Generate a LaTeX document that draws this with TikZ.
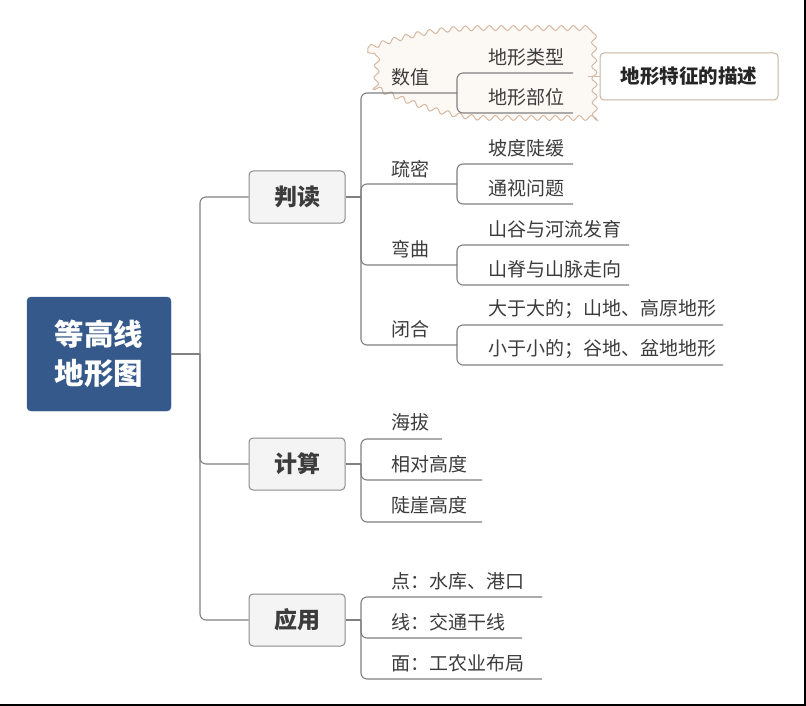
\documentclass[tikz,border=0pt]{standalone}
\usepackage{fontspec}
\setmainfont{Noto Sans CJK SC}
\usetikzlibrary{decorations.pathmorphing}
\definecolor{rootblue}{HTML}{34598A}
\definecolor{topicfill}{HTML}{F4F4F4}
\definecolor{topicdraw}{HTML}{8A8A8A}
\definecolor{linec}{HTML}{808080}
\definecolor{txt}{HTML}{3C3C3C}
\definecolor{bndfill}{HTML}{FCF9F5}
\definecolor{bnddraw}{HTML}{D6B8A2}
\definecolor{calldraw}{HTML}{C9B49E}
\tikzset{
  rootbox/.style={draw=rootblue, fill=rootblue, rounded corners=4pt, minimum width=144pt, minimum height=114pt,
    text=white, font=\fontsize{29.5}{39}\selectfont\bfseries, align=center, inner sep=0pt},
  topicbox/.style={draw=topicdraw, fill=topicfill, rounded corners=4pt, minimum width=96pt, minimum height=52pt,
    text=txt, font=\fontsize{23}{26}\selectfont\bfseries, inner sep=0pt, line width=1pt},
  subtxt/.style={anchor=west, text=txt, font=\fontsize{19}{22}\selectfont, inner sep=0pt},
  conn/.style={draw=linec, line width=1.1pt, rounded corners=6pt},
  callbox/.style={draw=calldraw, fill=white, rounded corners=4pt, minimum width=178pt, minimum height=47pt,
    text=black!85, font=\fontsize{19.5}{22}\selectfont\bfseries, inner sep=0pt, line width=1pt},
}
\begin{document}
\begin{tikzpicture}[x=1pt,y=-1pt]
\useasboundingbox (0,0) rectangle (806,706);
\fill[white] (0,0) rectangle (806,706);
\draw[black, line width=1.6pt] (0,705) -- (805,705) -- (805,0);

% boundary around 数值 group
\draw[draw=bnddraw, fill=bndfill, line width=1pt,
  decorate, decoration={snake, segment length=12pt, amplitude=2.5pt}]
  (368,48) .. controls (410,34) and (440,29) .. (480,29) -- (586,29) -- (587,124)
  -- (480,124) .. controls (440,124) and (400,108) .. (366,93) -- cycle;

% root
\node[rootbox] (root) at (99,354) {等高线\\地形图};
\coordinate (rt) at (200,354);

% topics
\node[topicbox] (pd) at (297,197) {判读};
\node[topicbox] (js) at (297,464) {计算};
\node[topicbox] (yy) at (297,620) {应用};

\draw[conn] (root.east) -- (rt);
\draw[conn] (rt) |- (pd.west);
\draw[conn] (rt) |- (js.west);
\draw[conn] (rt) |- (yy.west);

% callout
\node[callbox] (cb) at (689,76.5) {地形特征的描述};
\coordinate (bndr) at (588,76.5);
\draw[draw=bnddraw, line width=1pt] (bndr) -- (cb.west);

% 判读 branch
\coordinate (pdr) at (361,197);
\draw[conn] (pd.east) -- (pdr);

\node[subtxt] (sz) at (391,77) {数值};
\coordinate (sze) at (457,93);
\node[subtxt] (sm) at (391,169) {疏密};
\coordinate (sme) at (457,184);
\node[subtxt] (wq) at (391,249) {弯曲};
\coordinate (wqe) at (457,265);
\node[subtxt] (bh) at (391,329) {闭合};
\coordinate (bhe) at (457,345);
\foreach \e in {sze,sme,wqe,bhe} \draw[conn] (pdr) |- (\e);

\node[subtxt] (a1) at (488,57) {地形类型};
\coordinate (a1e) at (573,73);
\node[subtxt] (a2) at (488,97) {地形部位};
\coordinate (a2e) at (573,113);
\draw[conn] (sze) |- (a1e);
\draw[conn] (sze) |- (a2e);

\node[subtxt] (b1) at (488,148) {坡度陡缓};
\coordinate (b1e) at (573,164);
\node[subtxt] (b2) at (488,188) {通视问题};
\coordinate (b2e) at (573,204);
\draw[conn] (sme) |- (b1e);
\draw[conn] (sme) |- (b2e);

\node[subtxt] (c1) at (488,229) {山谷与河流发育};
\coordinate (c1e) at (629,245);
\node[subtxt] (c2) at (488,269) {山脊与山脉走向};
\coordinate (c2e) at (629,285);
\draw[conn] (wqe) |- (c1e);
\draw[conn] (wqe) |- (c2e);

\node[subtxt] (d1) at (488,309) {大于大的；山地、高原地形};
\coordinate (d1e) at (723,325);
\node[subtxt] (d2) at (488,349) {小于小的；谷地、盆地地形};
\coordinate (d2e) at (723,365);
\draw[conn] (bhe) |- (d1e);
\draw[conn] (bhe) |- (d2e);

% 计算 branch
\coordinate (jsr) at (361,464);
\draw[conn] (js.east) -- (jsr);
\node[subtxt] (e1) at (391,422) {海拔};
\coordinate (e1e) at (442,439);
\node[subtxt] (e2) at (391,464) {相对高度};
\coordinate (e2e) at (482,480);
\node[subtxt] (e3) at (391,505) {陡崖高度};
\coordinate (e3e) at (482,522);
\foreach \e in {e1e,e2e,e3e} \draw[conn] (jsr) |- (\e);

% 应用 branch
\coordinate (yyr) at (361,620);
\draw[conn] (yy.east) -- (yyr);
\node[subtxt] (f1) at (391,581) {点：水库、港口};
\coordinate (f1e) at (542,597);
\node[subtxt] (f2) at (391,622) {线：交通干线};
\coordinate (f2e) at (522,638);
\node[subtxt] (f3) at (391,663) {面：工农业布局};
\coordinate (f3e) at (542,679);
\foreach \e in {f1e,f2e,f3e} \draw[conn] (yyr) |- (\e);
\end{tikzpicture}
\end{document}
